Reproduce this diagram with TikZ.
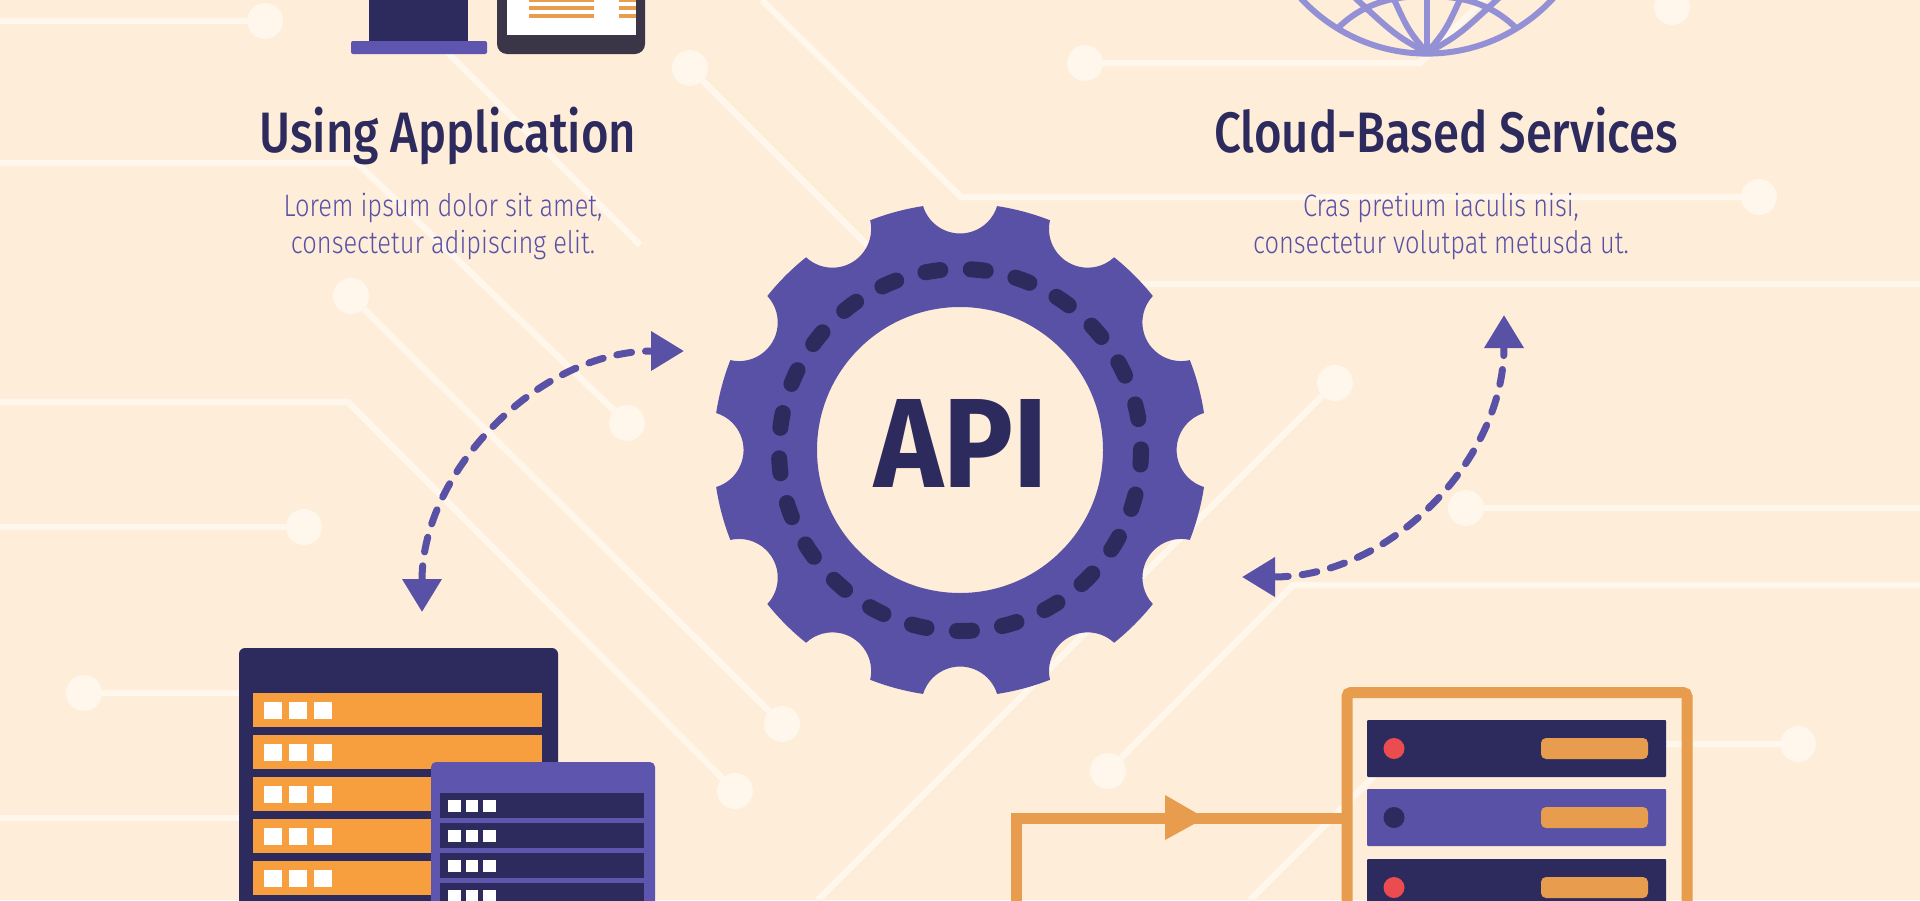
\documentclass[tikz,border=0pt]{standalone}
\usepackage{fontspec}
\usetikzlibrary{arrows.meta}
\newfontfamily\headfont[FakeStretch=0.83]{Fira Sans Medium}
\newfontfamily\lightfont[FakeStretch=0.82]{Fira Sans Light}
\newfontfamily\apifont[FakeStretch=0.92]{Fira Sans}
\definecolor{paper}{HTML}{FEEDD9}
\definecolor{tracewhite}{HTML}{FFF6EC}
\definecolor{gearblue}{HTML}{5851A5}
\definecolor{rackblue}{HTML}{5E55AF}
\definecolor{navy}{HTML}{2D2A5E}
\definecolor{slab}{HTML}{3A3648}
\definecolor{rackorange}{HTML}{F79F3E}
\definecolor{frameorange}{HTML}{E79C4E}
\definecolor{globeblue}{HTML}{9390D6}
\definecolor{ledred}{HTML}{EB4C50}
\tikzset{
  trace/.style={tracewhite,line width=6.5pt},
  tracedot/.style={circle,fill=tracewhite,minimum size=36pt,inner sep=0pt},
  dataflow/.style={gearblue,line width=7pt,line cap=round,dash pattern=on 15pt off 14pt,
    {Triangle[length=33pt,width=38pt]}-{Triangle[length=33pt,width=38pt]}},
  titletext/.style={anchor=base,navy,inner sep=0pt,font=\headfont\fontsize{57}{57}\selectfont},
  bodytext/.style={anchor=base,gearblue,inner sep=0pt,align=center,font=\lightfont\fontsize{31}{37}\selectfont},
  meridian/.style={globeblue,line width=6pt},
}
\begin{document}
\begin{tikzpicture}[x=1pt,y=-1pt]
  \clip (0,0) rectangle (1920,900);
  \fill[paper] (0,0) rectangle (1920,900);

  % traces
  \node[tracedot] (dotA) at (265,21) {};
  \node[tracedot] (dotB) at (627,423) {};
  \node[tracedot] (dotC) at (351,296) {};
  \node[tracedot] (dotD) at (782,724) {};
  \node[tracedot] (dotE) at (735,791) {};
  \node[tracedot] (dotF) at (304,527) {};
  \node[tracedot] (dotG) at (84,693) {};
  \node[tracedot] (dotH) at (690,68) {};
  \node[tracedot] (dotI) at (1759,197) {};
  \node[tracedot] (dotJ) at (1085,63) {};
  \node[tracedot] (dotK) at (1672,7) {};
  \node[tracedot] (dotL) at (1335,383) {};
  \node[tracedot] (dotM) at (1108,771) {};
  \node[tracedot] (dotN) at (1466,508) {};
  \node[tracedot] (dotO) at (1798,744) {};
  \draw[trace] (0,21) -- (dotA);
  \draw[trace] (0,163) -- (357,163) -- (dotB);
  \draw[trace] (395,0) -- (640,245);
  \draw[trace] (dotC) -- (dotD);
  \draw[trace] (0,402) -- (348,402) -- (dotE);
  \draw[trace] (0,527) -- (dotF);
  \draw[trace] (dotG) -- (245,693);
  \draw[trace] (0,818) -- (245,818);
  \draw[trace] (dotH) -- (880,258);
  \draw[trace] (762,0) -- (961,197) -- (dotI);
  \draw[trace] (dotJ) -- (1420,63) -- (1490,-7);
  \draw[trace] (1100,284) -- (1920,284);
  \draw[trace] (dotL) -- (818,900);
  \draw[trace] (dotM) -- (1293,585) -- (1920,585);
  \draw[trace] (dotN) -- (1920,508);
  \draw[trace] (dotO) -- (1406,744) -- (1250,900);

  % laptop and tablet
  \fill[navy] (369,-10) rectangle (468,41);
  \fill[rackblue,rounded corners=2pt] (351,41) rectangle (487,54);
  \fill[slab,rounded corners=10pt] (497,-20) rectangle (645,54);
  \fill[white] (507,-20) rectangle (636,35);
  \foreach \y in {-2,6,14} {
    \fill[frameorange] (529,\y) rectangle (594,\y+4);
    \fill[frameorange] (619,\y) rectangle (636,\y+4);
  }

  % globe
  \begin{scope}
    \clip (1290,-5) rectangle (1565,60);
    \draw[meridian] (1427,-118) circle (171.6);
    \draw[meridian] (1427,53) -- (1427,-5);
    \draw[meridian] (1427,53) .. controls (1408,30) .. (1392,-5);
    \draw[meridian] (1427,53) .. controls (1446,30) .. (1462,-5);
    \draw[meridian] (1427,53) .. controls (1395,35) .. (1352,-5);
    \draw[meridian] (1427,53) .. controls (1459,35) .. (1502,-5);
    \draw[meridian] (1339,27) .. controls (1365,2) and (1395,-4) .. (1427,-4)
      .. controls (1459,-4) and (1489,2) .. (1515,27);
  \end{scope}

  % gear
  \fill[gearblue,even odd rule,shift={(960,450)}] (8.63:246.8)
    \foreach \k in {0,...,11} {
      arc[start angle=30*\k+8.63, end angle=30*\k+21.37, radius=246.8]
      arc[start angle=30*\k+30-107, end angle=30*\k+30-253, radius=38.7]
    } -- cycle (0,0) circle (143);
  \draw[navy,line width=16pt,line cap=round,dash pattern=on 15pt off 30.49pt,dash phase=0.5pt]
    (960,450) circle (181);
  \node[anchor=base,navy,inner sep=0pt,font=\apifont\bfseries\fontsize{127}{127}\selectfont] (apiLabel) at (961,487.5) {API};

  % headings
  \node[titletext] (appTitle) at (448,152) {Using Application};
  \node[bodytext] (appBody) at (443,253) {Lorem ipsum dolor sit amet,\\consectetur adipiscing elit.};
  \node[titletext] (cloudTitle) at (1446,152) {Cloud-Based Services};
  \node[bodytext] (cloudBody) at (1441,253) {Cras pretium iaculis nisi,\\consectetur volutpat metusda ut.};

  % dashed arrows
  \coordinate (appTip) at (684,351);
  \coordinate (dbTip) at (422,612);
  \coordinate (cloudTip) at (1504,315);
  \coordinate (apiTip) at (1242,577);
  \draw[dataflow] (dbTip) .. controls (422,470) and (540,351) .. (appTip);
  \draw[dataflow] (apiTip) .. controls (1390,577) and (1504,460) .. (cloudTip);

  % left racks
  \fill[navy,rounded corners=6pt] (239,648) rectangle (558,920);
  \foreach \y in {693,735,777,819,861} {
    \fill[rackorange] (253,\y) rectangle (542,\y+34);
    \foreach \x in {264,289,314} \fill[white] (\x,\y+9) rectangle (\x+18,\y+26);
  }
  \fill[rackblue,rounded corners=5pt] (431,762) rectangle (655,920);
  \foreach \y in {793,823,853,883} {
    \fill[navy] (440,\y) rectangle (644,\y+24.5);
    \foreach \x in {448,465.5,483} \fill[white] (\x,\y+7) rectangle (\x+12.5,\y+19);
  }

  % server cabinet
  \coordinate (cabinetLeft) at (1342,818);
  \coordinate (wireBottom) at (1016,910);
  \draw[frameorange,line width=11pt] (wireBottom) -- (1016,818) -- (cabinetLeft);
  \fill[frameorange] (1165,795) -- (1205,818) -- (1165,840) -- cycle;
  \draw[frameorange,line width=11pt,rounded corners=4pt] (1347,920) -- (1347,692.5) -- (1687,692.5) -- (1687,920);
  \foreach \y/\rowcol/\ledcol in {720/navy/ledred,789/gearblue/navy,859/navy/ledred} {
    \fill[\rowcol,rounded corners=1pt] (1367,\y) rectangle (1666,\y+57);
    \fill[\ledcol] (1394,\y+28.5) circle (10.5);
    \fill[frameorange,rounded corners=5pt] (1541,\y+18) rectangle (1648,\y+39);
  }
\end{tikzpicture}
\end{document}
